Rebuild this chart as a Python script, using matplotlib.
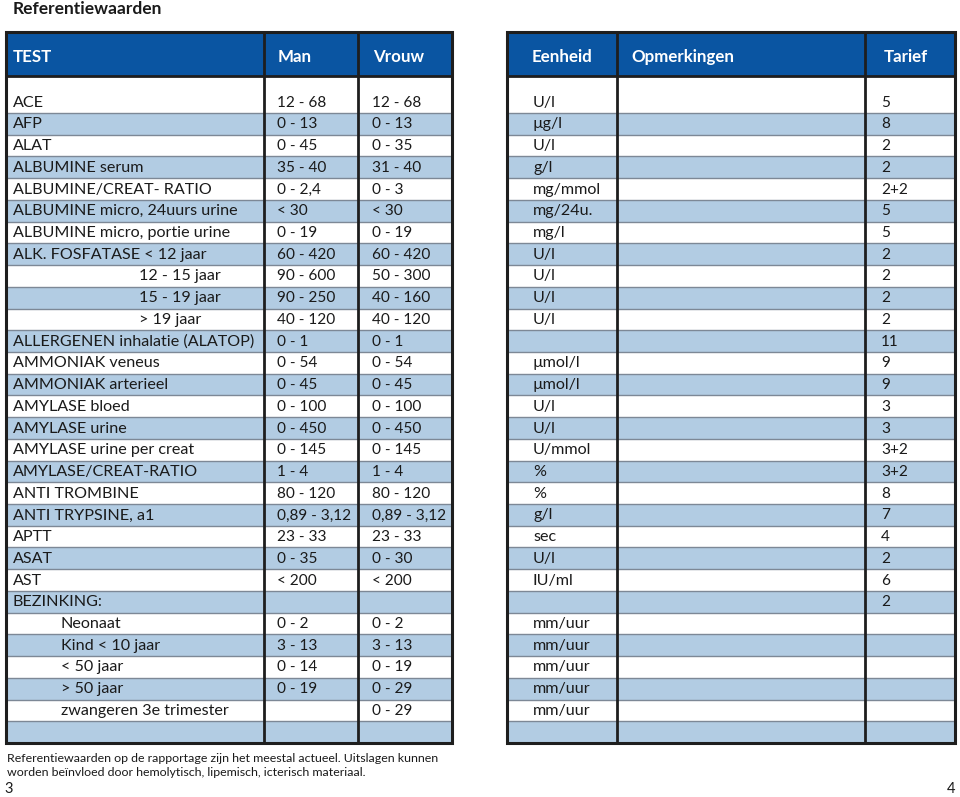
import matplotlib
matplotlib.use("Agg")
import matplotlib.pyplot as plt
from matplotlib.patches import Rectangle

plt.rcParams['font.family'] = ['Lato', 'DejaVu Sans']

tests = ["ACE", "AFP", "ALAT", "ALBUMINE serum", "ALBUMINE/CREAT- RATIO",
         "ALBUMINE micro, 24uurs urine", "ALBUMINE micro, portie urine",
         "ALK. FOSFATASE < 12 jaar", "12 - 15 jaar", "15 - 19 jaar", "> 19 jaar",
         "ALLERGENEN inhalatie (ALATOP)", "AMMONIAK veneus", "AMMONIAK arterieel",
         "AMYLASE bloed", "AMYLASE urine", "AMYLASE urine per creat",
         "AMYLASE/CREAT-RATIO", "ANTI TROMBINE", "ANTI TRYPSINE, a1", "APTT",
         "ASAT", "AST", "BEZINKING:", "Neonaat", "Kind < 10 jaar", "< 50 jaar",
         "> 50 jaar", "zwangeren 3e trimester", ""]
indent = [0]*8 + [2, 2, 2] + [0]*13 + [1, 1, 1, 1, 1, 0]
man = ["12 - 68", "0 - 13", "0 - 45", "35 - 40", "0 - 2,4", "< 30", "0 - 19",
       "60 - 420", "90 - 600", "90 - 250", "40 - 120", "0 - 1", "0 - 54", "0 - 45",
       "0 - 100", "0 - 450", "0 - 145", "1 - 4", "80 - 120", "0,89 - 3,12",
       "23 - 33", "0 - 35", "< 200", "", "0 - 2", "3 - 13", "0 - 14", "0 - 19", "", ""]
vrouw = ["12 - 68", "0 - 13", "0 - 35", "31 - 40", "0 - 3", "< 30", "0 - 19",
         "60 - 420", "50 - 300", "40 - 160", "40 - 120", "0 - 1", "0 - 54", "0 - 45",
         "0 - 100", "0 - 450", "0 - 145", "1 - 4", "80 - 120", "0,89 - 3,12",
         "23 - 33", "0 - 30", "< 200", "", "0 - 2", "3 - 13", "0 - 19", "0 - 29",
         "0 - 29", ""]
eenheid = ["U/l", "µg/l", "U/l", "g/l", "mg/mmol", "mg/24u.", "mg/l", "U/l", "U/l",
           "U/l", "U/l", "", "µmol/l", "µmol/l", "U/l", "U/l", "U/mmol", "%", "%",
           "g/l", "sec", "U/l", "IU/ml", "", "mm/uur", "mm/uur", "mm/uur", "mm/uur",
           "mm/uur", ""]
tarief = ["5", "8", "2", "2", "2+2", "5", "5", "2", "2", "2", "2", "11", "9", "9",
          "3", "3", "3+2", "3+2", "8", "7", "4", "2", "6", "2", "", "", "", "", "", ""]

W, H = 960, 797
fig = plt.figure(figsize=(9.6, 7.97), dpi=100)
ax = fig.add_axes([0, 0, 1, 1])
ax.set_xlim(0, W)
ax.set_ylim(H, 0)
ax.axis('off')

DARK = '#0a55a2'
LIGHT = '#b2cce3'
GRID = '#7d8896'
EDGE = '#1e1e1e'
TXT = '#1a1a1a'
FS = 11.6
FSV = 11.1

head_top, head_bot = 32, 76
first_bot = 113
body_bot = 743
n = len(tests)
rh = (body_bot - first_bot) / (n - 1)
tops = [head_bot] + [first_bot + i * rh for i in range(n - 1)]
bots = [first_bot + i * rh for i in range(n)]

tables = [(6, 264, 358, 452), (507, 617, 865, 955)]

for (x0, x1, x2, x3) in tables:
    ax.add_patch(Rectangle((x0, head_top), x3 - x0, head_bot - head_top,
                           facecolor=DARK, edgecolor='none', zorder=1))
    for i in range(n):
        fc = LIGHT if i % 2 == 1 else 'white'
        ax.add_patch(Rectangle((x0, tops[i]), x3 - x0, bots[i] - tops[i],
                               facecolor=fc, edgecolor='none', zorder=1))
        if i < n - 1 and i > 0:
            ax.plot([x0, x3], [bots[i], bots[i]], color=GRID, lw=1.0, zorder=2)
    ax.plot([x0, x3], [first_bot, first_bot], color=GRID, lw=1.0, zorder=2)
    ax.plot([x0, x3], [head_bot, head_bot], color=EDGE, lw=2.0, zorder=3)
    for xv in (x1, x2):
        ax.plot([xv, xv], [head_top, body_bot], color=EDGE, lw=2.0, zorder=3)
    ax.add_patch(Rectangle((x0, head_top), x3 - x0, body_bot - head_top,
                           facecolor='none', edgecolor=EDGE, lw=2.2, zorder=4))

hy = 57
hdr = dict(color='white', fontsize=12.2, fontweight='bold', va='center', ha='left', zorder=5)
ax.text(13, hy, "TEST", **hdr)
ax.text(278, hy, "Man", **hdr)
ax.text(373, hy, "Vrouw", **hdr)
ax.text(532, hy, "Eenheid", **hdr)
ax.text(631, hy, "Opmerkingen", **hdr)
ax.text(884, hy, "Tarief", **hdr)

indent_x = {0: 13, 1: 61, 2: 139}
for i in range(n):
    yc = bots[i] - rh / 2 + 0.5
    kw = dict(color=TXT, fontsize=FS, va='center', ha='left', zorder=5)
    kv = dict(color=TXT, fontsize=FSV, va='center', ha='left', zorder=5)
    ax.text(indent_x[indent[i]], yc, tests[i], **kw)
    ax.text(277, yc, man[i], **kv)
    ax.text(372, yc, vrouw[i], **kv)
    ax.text(533, yc, eenheid[i], **kw)
    ax.text(881, yc, tarief[i], **kv)

ax.text(13, 9, "Referentiewaarden", fontsize=12.5, fontweight='bold', color=TXT,
        va='center', ha='left')
ax.text(7, 758, "Referentiewaarden op de rapportage zijn het meestal actueel. Uitslagen kunnen",
        fontsize=8.9, color=TXT, va='center', ha='left')
ax.text(7, 773, "worden beïnvloed door hemolytisch, lipemisch, icterisch materiaal.",
        fontsize=8.9, color=TXT, va='center', ha='left')
ax.text(4, 789, "3", fontsize=10.5, color=TXT, va='center', ha='left')
ax.text(947, 789, "4", fontsize=10.5, color=TXT, va='center', ha='left')

fig.savefig("out.png", dpi=100)
